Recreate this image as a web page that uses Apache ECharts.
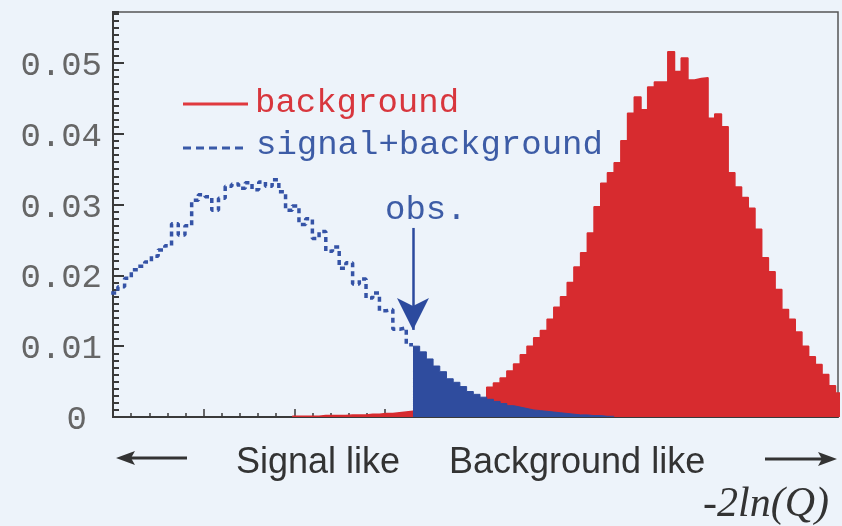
<!DOCTYPE html>
<html>
<head>
<meta charset="utf-8">
<script src="https://cdn.jsdelivr.net/npm/echarts@6/dist/echarts.min.js"></script>
<style>
  html, body { margin: 0; padding: 0; background: #edf3fa; }
  #chart { width: 842px; height: 526px; }
</style>
</head>
<body>
<div id="chart"></div>
<script>
// -2ln(Q) axis range and histogram binning
const xMin = -40, xMax = 40;
const yMax = 0.0572;
const binStart = -40.2;
const binWidth = 0.74;

// observed value of the test statistic and the bin where it falls
const obsValue = -6.9;
const obsBin = 45;

// y tick labels (0 .. 0.05)
const yTickLabels = ['0', '0.01', '0.02', '0.03', '0.04', '0.05'];

// background-only pdf, one value per bin
const background = [
  0, 0, 0, 0, 0, 0, 0, 0, 0, 0, 0, 0, 0, 0, 0, 0, 0, 0, 0, 0, 0, 0, 0, 0, 0, 0, 0,
  0.0001, 0.0001, 0.0001, 0.0001, 0.0002, 0.0002, 0.0002, 0.0002, 0.0003,
  0.0003, 0.0003, 0.0004, 0.0004, 0.0005, 0.0005, 0.0006, 0.0007, 0.0008,
  0.0009, 0.0010, 0.0011, 0.0012, 0.0014, 0.0015, 0.0017, 0.0019, 0.0021, 0.0023, 0.0026,
  0.0042, 0.0048, 0.0055, 0.0065, 0.0075, 0.0088, 0.0100, 0.0112, 0.0122, 0.0138,
  0.0155, 0.0170, 0.0190, 0.0212, 0.0232,
  0.0260, 0.0297, 0.0330, 0.0345, 0.0359, 0.0390, 0.0429, 0.0452, 0.0434, 0.0466,
  0.0473, 0.0473, 0.0516, 0.0488, 0.0507, 0.0476, 0.0478, 0.0479, 0.0422, 0.0428, 0.0410,
  0.0345, 0.0325, 0.0310, 0.0295, 0.0265, 0.0225, 0.0205, 0.0180, 0.0152, 0.0138,
  0.0120, 0.0100, 0.0085, 0.0074, 0.0060, 0.0044, 0.0034
];

// signal+background pdf, one value per bin
const signalPlusBackground = [
  0.0175, 0.0184, 0.0196, 0.0208, 0.0213, 0.0219, 0.0227, 0.0236, 0.0242, 0.0273,
  0.0257, 0.0270, 0.0306, 0.0314, 0.0311, 0.0292, 0.0309, 0.0326, 0.0329, 0.0323,
  0.0331, 0.0321, 0.0332, 0.0326, 0.0335, 0.0318, 0.0292, 0.0298, 0.0272, 0.0280,
  0.0252, 0.0262, 0.0234, 0.0240, 0.0210, 0.0218, 0.0188, 0.0195, 0.0168, 0.0175,
  0.0150, 0.0152, 0.0124, 0.0126, 0.0102,
  0.0100, 0.0092, 0.0082, 0.0072, 0.0064, 0.0054, 0.0049, 0.0043, 0.0036, 0.0032,
  0.0028, 0.0025, 0.0022, 0.0019, 0.0016, 0.0014, 0.0012, 0.0010, 0.0009, 0.0008,
  0.0007, 0.0006, 0.0005, 0.0004, 0.0003, 0.0003, 0.0002, 0.0002, 0.0001, 0.0001,
  0, 0, 0, 0, 0, 0, 0, 0, 0, 0, 0, 0, 0, 0, 0, 0, 0,
  0, 0, 0, 0, 0, 0, 0, 0, 0, 0, 0, 0, 0, 0, 0, 0, 0
];

// turn bins [from, to) into step-line points at the bin edges
function stepPoints(values, from, to) {
  const pts = [];
  for (let k = from; k < to; k++) pts.push([binStart + k * binWidth, values[k]]);
  pts.push([binStart + to * binWidth, values[to - 1]]);
  return pts;
}
function firstNonZero(values) {
  return values.findIndex(v => v > 0);
}
function lastNonZero(values) {
  for (let k = values.length - 1; k >= 0; k--) if (values[k] > 0) return k;
  return -1;
}

const RED = '#d72b2f';
const BLUE = '#2f4c9e';
const MONO = "'Courier New', 'Liberation Mono', monospace";
const SANS = '"Liberation Sans", Arial, sans-serif';
const AXIS = '#3a3a3a';

const chart = echarts.init(document.getElementById('chart'), null, { renderer: 'canvas' });

const option = {
  animation: false,
  backgroundColor: '#edf3fa',
  grid: {
    left: 113, right: 4, top: 12, bottom: 109,
    show: true, borderColor: '#555', borderWidth: 1.5, backgroundColor: 'transparent'
  },
  xAxis: {
    type: 'value', min: xMin, max: xMax, interval: 10,
    axisLine: { show: true, onZero: false, lineStyle: { color: AXIS, width: 2 } },
    axisTick: { show: true, inside: true, length: 8, lineStyle: { color: AXIS, width: 1.5 } },
    minorTick: { show: true, splitNumber: 5, length: 4, lineStyle: { color: AXIS, width: 1.5 } },
    axisLabel: { show: false },
    splitLine: { show: false }
  },
  yAxis: [
    {
      type: 'value', min: 0, max: yMax, interval: 0.01, position: 'left',
      axisLine: { show: true, onZero: false, lineStyle: { color: AXIS, width: 2 } },
      axisTick: { show: true, inside: true, length: 11, lineStyle: { color: AXIS, width: 2 } },
      axisLabel: {
        show: true, margin: 11, showMaxLabel: false,
        color: '#666', fontFamily: MONO, fontSize: 34, padding: [6, 0, 0, 0],
        formatter: v => {
          const i = Math.round(v / 0.01);
          if (i === 0) return '{z|' + yTickLabels[0] + '}';
          return yTickLabels[i] !== undefined ? yTickLabels[i] : '';
        },
        rich: { z: { color: '#666', fontFamily: MONO, fontSize: 34, padding: [0, 15, 0, 0] } }
      },
      splitLine: { show: false }
    },
    {
      // fine tick marks every 0.001
      type: 'value', min: 0, max: yMax, interval: 0.001, position: 'left', offset: 0,
      axisLine: { show: true, onZero: false, lineStyle: { color: AXIS, width: 2 } },
      axisTick: { show: true, inside: true, length: 6, lineStyle: { color: AXIS, width: 2 } },
      axisLabel: { show: false },
      splitLine: { show: false }
    }
  ],
  series: [
    {
      name: 'background', type: 'line', step: 'end', showSymbol: false, symbol: 'none',
      data: stepPoints(background, firstNonZero(background), background.length),
      lineStyle: { color: RED, width: 1.5 },
      areaStyle: { color: RED, opacity: 1 },
      z: 2
    },
    {
      name: 'signal+background', type: 'line', step: 'end', showSymbol: false, symbol: 'none',
      data: stepPoints(signalPlusBackground, obsBin, lastNonZero(signalPlusBackground) + 1),
      lineStyle: { color: BLUE, width: 1 },
      areaStyle: { color: BLUE, opacity: 1 },
      z: 3
    },
    {
      name: 'signal+background', type: 'line', step: 'end', showSymbol: false, symbol: 'none',
      data: stepPoints(signalPlusBackground, 0, obsBin),
      lineStyle: { color: '#3553a6', width: 3.5, type: [5, 4] },
      z: 4,
      markLine: {
        silent: true, animation: false,
        symbol: ['none', 'arrow'], symbolSize: [24, 32],
        lineStyle: { color: '#2c4a9e', width: 2.5, type: 'solid' },
        label: { show: false },
        data: [[{ coord: [obsValue, 0.0267] }, { coord: [obsValue, 0.0123] }]]
      }
    }
  ],
  graphic: [
    // legend
    { type: 'line', shape: { x1: 183, y1: 104, x2: 248, y2: 104 }, style: { stroke: '#e0393e', lineWidth: 3 } },
    { type: 'text', x: 255, y: 86, style: { text: 'background', fill: '#d8363d', font: '34px ' + MONO } },
    { type: 'line', shape: { x1: 183, y1: 148, x2: 248, y2: 148 }, style: { stroke: '#3a5aa8', lineWidth: 3, lineDash: [8, 5] } },
    { type: 'text', x: 256, y: 128, style: { text: 'signal+background', fill: '#3d5ca6', font: '34px ' + MONO } },
    // caption of the observed-value arrow
    { type: 'text', x: 385, y: 193, style: { text: 'obs.', fill: '#3d5ca6', font: '34px ' + MONO } },
    // direction hints under the axis
    { type: 'line', shape: { x1: 130, y1: 458, x2: 187, y2: 458 }, style: { stroke: '#333', lineWidth: 3 } },
    { type: 'polygon', shape: { points: [[116, 458], [135, 451], [131, 458], [135, 465]] }, style: { fill: '#333' } },
    { type: 'text', x: 236, y: 445, style: { text: 'Signal like', fill: '#333', font: '36px ' + SANS } },
    { type: 'text', x: 449, y: 445, style: { text: 'Background like', fill: '#333', font: '36px ' + SANS } },
    { type: 'line', shape: { x1: 765, y1: 459, x2: 822, y2: 459 }, style: { stroke: '#333', lineWidth: 3 } },
    { type: 'polygon', shape: { points: [[837, 459], [818, 452], [822, 459], [818, 466]] }, style: { fill: '#333' } },
    { type: 'text', x: 703, y: 484, style: { text: '-2ln(Q)', fill: '#333', font: 'italic 42px "Liberation Serif", "Times New Roman", serif' } }
  ]
};

chart.setOption(option);
</script>
</body>
</html>
